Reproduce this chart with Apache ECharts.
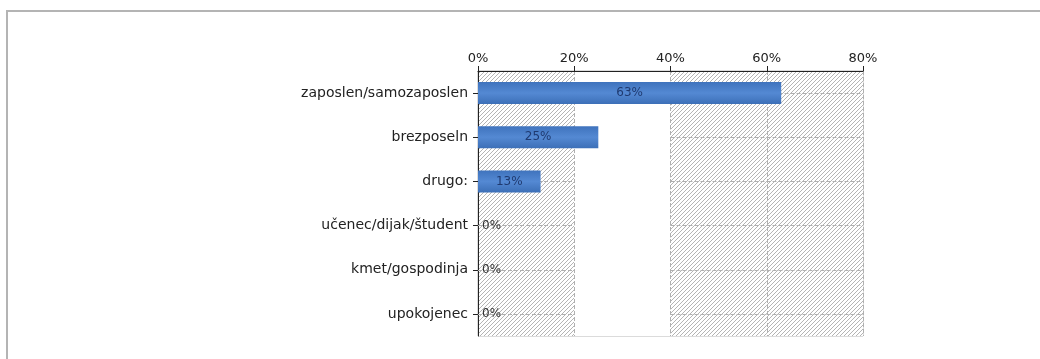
<!DOCTYPE html>
<html>
<head>
<meta charset="utf-8">
<script src="https://cdn.jsdelivr.net/npm/echarts@6/dist/echarts.min.js"></script>
<style>
  html, body { margin: 0; padding: 0; background: #fff; }
  #chart { width: 1040px; height: 359px; }
</style>
</head>
<body>
<div id="chart"></div>
<script>
// kategorije (od zgoraj navzdol) in deleži v %
const categories = ['zaposlen/samozaposlen', 'brezposeln', 'drugo:', 'učenec/dijak/študent', 'kmet/gospodinja', 'upokojenec']
const values = [63, 25, 13, 0, 0, 0]
const xTicks = [0, 20, 40, 60, 80]

// šrafura za ozadje
function makeHatch () {
  const c = document.createElement('canvas')
  c.width = 4
  c.height = 4
  const ctx = c.getContext('2d')
  ctx.fillStyle = '#ffffff'
  ctx.fillRect(0, 0, 4, 4)
  ctx.strokeStyle = '#b4b4b4'
  ctx.lineWidth = 1
  ctx.beginPath()
  ctx.moveTo(-1, 5); ctx.lineTo(5, -1)
  ctx.moveTo(-1, 1); ctx.lineTo(1, -1)
  ctx.moveTo(3, 5); ctx.lineTo(5, 3)
  ctx.stroke()
  return c
}
const hatch = { image: makeHatch(), repeat: 'repeat' }

const myChart = echarts.init(document.getElementById('chart'))

const barColor = new echarts.graphic.LinearGradient(0, 0, 0, 1, [
  { offset: 0, color: '#3f73bd' },
  { offset: 0.5, color: '#5489d3' },
  { offset: 1, color: '#3c6fb7' }
])

// črtkane črte po sredini kategorij (bel stolpec 20–40 % ostane prazen)
const rowLines = []
categories.forEach(c => {
  rowLines.push([{ coord: [xTicks[0], c] }, { coord: [xTicks[1], c] }])
  rowLines.push([{ coord: [xTicks[2], c] }, { coord: [xTicks[4], c] }])
})

const option = {
  animation: false,
  graphic: [{
    type: 'rect',
    shape: { x: 7, y: 11, width: 1100, height: 400 },
    style: { fill: 'none', stroke: '#b4b4b4', lineWidth: 2 },
    silent: true
  }],
  grid: {
    left: 478,
    right: 177,
    top: 71,
    height: 265,
    show: true,
    backgroundColor: 'transparent',
    borderColor: '#b8b8b8',
    borderWidth: 1
  },
  xAxis: {
    type: 'value',
    position: 'top',
    min: xTicks[0],
    max: xTicks[xTicks.length - 1],
    interval: 20,
    axisLine: { show: true, lineStyle: { color: '#222', width: 1 } },
    axisTick: { show: true, length: 5, lineStyle: { color: '#222' } },
    axisLabel: {
      formatter: '{value}%',
      fontFamily: 'DejaVu Sans',
      fontSize: 13,
      color: '#222',
      margin: 6
    },
    splitLine: { show: true, lineStyle: { type: 'dashed', color: '#b0b0b0' } },
    splitArea: { show: true, areaStyle: { color: [hatch, '#ffffff', hatch, hatch] } }
  },
  yAxis: {
    type: 'category',
    inverse: true,
    data: categories,
    axisLine: { show: true, lineStyle: { color: '#222', width: 1 } },
    axisTick: { show: true, alignWithLabel: true, length: 5, lineStyle: { color: '#222' } },
    axisLabel: {
      fontFamily: 'DejaVu Sans',
      fontSize: 14,
      color: '#222',
      margin: 10
    },
    splitLine: { show: false }
  },
  series: [
    {
      type: 'line',
      z: 1,
      data: [],
      silent: true,
      markLine: {
        z: 1,
        silent: true,
        symbol: 'none',
        label: { show: false },
        lineStyle: { type: 'dashed', color: '#b0b0b0', width: 1 },
        data: rowLines
      }
    },
    {
      type: 'bar',
      z: 3,
      barWidth: 22,
      itemStyle: { color: barColor },
      data: values.map(v => ({
        value: v,
        label: { position: v === 0 ? 'right' : 'inside', color: v === 0 ? '#333' : '#1f3a70' }
      })),
      label: {
        show: true,
        formatter: '{c}%',
        fontFamily: 'DejaVu Sans',
        fontSize: 12,
        distance: 4
      }
    }
  ]
}

myChart.setOption(option)
</script>
</body>
</html>
